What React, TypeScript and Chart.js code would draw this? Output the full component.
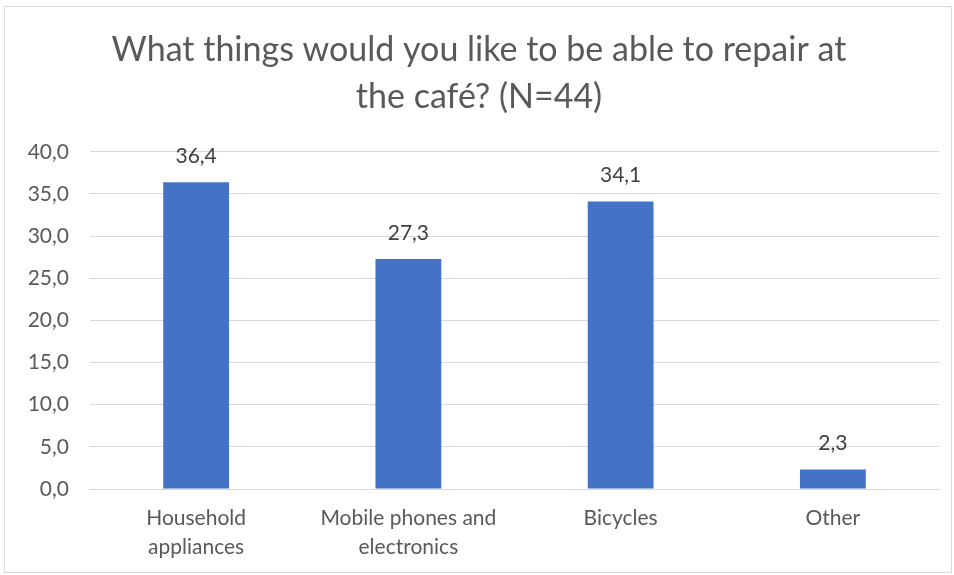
import React, { useEffect, useRef } from "react";
import { Chart, registerables } from "chart.js";

Chart.register(...registerables);

const titleLines = ["What things would you like to be able to repair at", "the café? (N=44)"];
const categories: (string | string[])[] = [
  ["Household", "appliances"],
  ["Mobile phones and", "electronics"],
  "Bicycles",
  "Other",
];
const values = [36.4, 27.3, 34.1, 2.3];
const yMin = 0;
const yMax = 40;
const yStep = 5;

const fmt = (v: number) => v.toFixed(1).replace(".", ",");

const dataLabelPlugin = {
  id: "dataLabels",
  afterDatasetsDraw(chart: any) {
    const ctx = chart.ctx;
    const meta = chart.getDatasetMeta(0);
    ctx.save();
    ctx.font = "21px Lato";
    ctx.fillStyle = "#404040";
    ctx.textAlign = "center";
    ctx.textBaseline = "middle";
    meta.data.forEach((bar: any, i: number) => {
      ctx.fillText(fmt(values[i]), bar.x, bar.y - 26);
    });
    ctx.restore();
  },
};

export default function App() {
  const ref = useRef<HTMLCanvasElement>(null);
  useEffect(() => {
    if (!ref.current) return;
    const chart = new Chart(ref.current, {
      type: "bar",
      data: {
        labels: categories,
        datasets: [
          {
            data: values,
            backgroundColor: "#4472C4",
            barPercentage: 0.62,
            categoryPercentage: 0.5,
          },
        ],
      },
      options: {
        responsive: false,
        animation: false,
        layout: { padding: { left: 14, right: 12, top: 18, bottom: 8 } },
        plugins: {
          legend: { display: false },
          tooltip: { enabled: false },
          title: {
            display: true,
            text: titleLines,
            color: "#595959",
            font: { family: "Lato", size: 34, weight: "normal", lineHeight: 1.38 },
            padding: { top: 2, bottom: 31 },
          },
        },
        scales: {
          x: {
            grid: { display: false },
            border: { display: true, color: "#d9d9d9" },
            ticks: {
              color: "#595959",
              font: { family: "Lato", size: 21, lineHeight: 1.38 },
              padding: 7,
              maxRotation: 0,
              autoSkip: false,
            },
            afterFit: (s: any) => {
              s.height = 75;
            },
          },
          y: {
            min: yMin,
            max: yMax,
            ticks: {
              stepSize: yStep,
              color: "#595959",
              font: { family: "Lato", size: 21 },
              padding: 21,
              callback: (v: any) => fmt(Number(v)),
            },
            grid: { color: "#d9d9d9", drawTicks: false },
            border: { display: false },
            afterFit: (s: any) => {
              s.width = 71;
            },
          },
        },
      },
      plugins: [dataLabelPlugin],
    });
    return () => chart.destroy();
  }, []);
  return (
    <div
      style={{
        position: "fixed",
        left: 0,
        top: 0,
        width: 954,
        height: 575,
        background: "#fff",
      }}
    >
      <div
        style={{
          position: "absolute",
          left: 4,
          top: 6,
          width: 948,
          height: 567,
          border: "1px solid #d9d9d9",
          boxSizing: "border-box",
        }}
      >
        <canvas ref={ref} width={946} height={565} />
      </div>
    </div>
  );
}
